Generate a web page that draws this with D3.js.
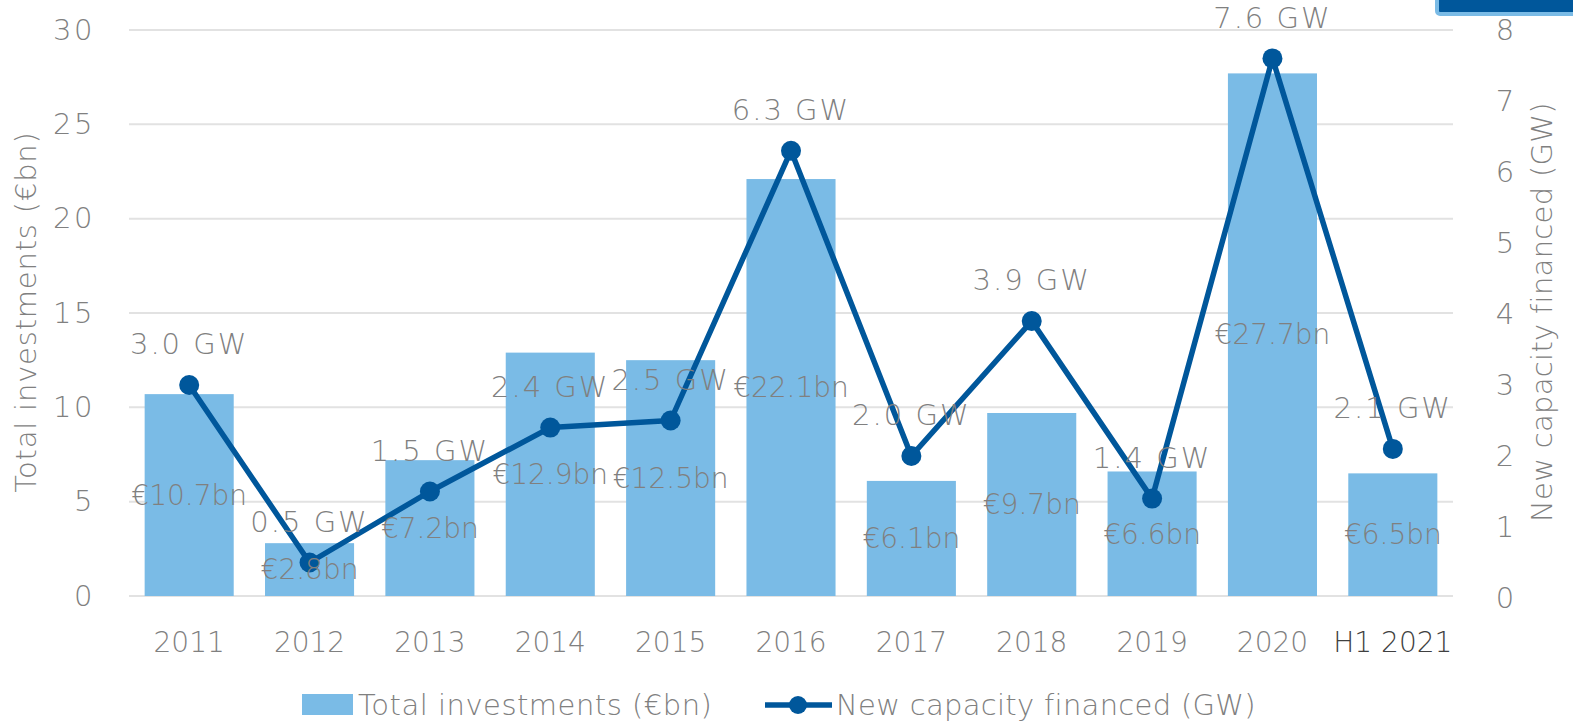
<!DOCTYPE html>
<html><head><meta charset="utf-8">
<script src="https://cdn.jsdelivr.net/npm/d3@7"></script>
<style>
body{margin:0;background:#fff;}
svg text{font-family:"DejaVu Sans", sans-serif;font-weight:200;}
</style></head>
<body><svg id="c" width="1573" height="725"></svg>
<script>
const categories = ["2011","2012","2013","2014","2015","2016","2017","2018","2019","2020","H1 2021"];
const investments = [10.7, 2.8, 7.2, 12.9, 12.5, 22.1, 6.1, 9.7, 6.6, 27.7, 6.5];
const investmentLabels = ["€10.7bn","€2.8bn","€7.2bn","€12.9bn","€12.5bn","€22.1bn","€6.1bn","€9.7bn","€6.6bn","€27.7bn","€6.5bn"];
const capacity = [3.0, 0.5, 1.5, 2.4, 2.5, 6.3, 2.0, 3.9, 1.4, 7.6, 2.1];
const capacityLabels = ["3.0 GW","0.5 GW","1.5 GW","2.4 GW","2.5 GW","6.3 GW","2.0 GW","3.9 GW","1.4 GW","7.6 GW","2.1 GW"];
const leftTicks = [0,5,10,15,20,25,30];
const rightTicks = [0,1,2,3,4,5,6,7,8];

const barColor = "#7abbe6", lineColor = "#00579b", textColor = "#808080";
const svg = d3.select("#c");
const L = 129, R = 1453, T = 30, B = 596;
const x = d3.scaleBand().domain(categories).range([L, R]).paddingInner(0.26).paddingOuter(0.13);
const yL = d3.scaleLinear().domain([0,30]).range([B, T]);
const yR = d3.scaleLinear().domain([0,8]).range([598, 30]);
const fs = "29px";

// top-right cut element
svg.append("rect").attr("x",1437).attr("y",-12).attr("width",150).attr("height",26)
  .attr("fill",lineColor).attr("stroke",barColor).attr("stroke-width",4).attr("rx",3);

// gridlines
svg.append("g").selectAll("line").data(leftTicks).join("line")
  .attr("x1",L).attr("x2",R).attr("y1",d=>yL(d)).attr("y2",d=>yL(d))
  .attr("stroke","#e2e2e2").attr("stroke-width",2);

// left axis
const gl = svg.append("g").attr("transform",`translate(${L},0)`)
  .call(d3.axisLeft(yL).tickValues(leftTicks).tickSize(0).tickPadding(34));
gl.select(".domain").remove();
gl.selectAll("text").attr("fill",textColor).style("font-size",fs).style("letter-spacing","2.5px");

// right axis
const gr = svg.append("g").attr("transform",`translate(${R},0)`)
  .call(d3.axisRight(yR).tickValues(rightTicks).tickSize(0).tickPadding(52));
gr.select(".domain").remove();
gr.selectAll("text").attr("fill",textColor).style("font-size",fs).attr("text-anchor","middle");

// x axis
const gx = svg.append("g").attr("transform",`translate(0,${B})`)
  .call(d3.axisBottom(x).tickSize(0).tickPadding(46));
gx.select(".domain").remove();
gx.selectAll("text").attr("fill",d=>d.startsWith("H1")?"#404040":textColor).style("font-size","28px")
  .style("font-weight",d=>d.startsWith("H1")?"300":"200").attr("dy","0.35em");

// axis titles
svg.append("text").attr("transform",`translate(36,312) rotate(-90)`).attr("text-anchor","middle")
  .attr("fill",textColor).style("font-size",fs).style("letter-spacing","0.8px").text("Total investments (€bn)");
svg.append("text").attr("transform",`translate(1552,312) rotate(-90)`).attr("text-anchor","middle")
  .attr("fill",textColor).style("font-size",fs).style("letter-spacing","0.3px").text("New capacity financed (GW)");

// bars
svg.append("g").selectAll("rect").data(investments).join("rect")
  .attr("x",(d,i)=>x(categories[i])).attr("width",x.bandwidth())
  .attr("y",d=>yL(d)).attr("height",d=>B-yL(d)).attr("fill",barColor);

// line
const line = d3.line().x((d,i)=>x(categories[i])+x.bandwidth()/2).y(d=>yR(d));
svg.append("path").datum(capacity).attr("d",line).attr("fill","none")
  .attr("stroke",lineColor).attr("stroke-width",5.5).attr("stroke-linejoin","round");
svg.append("g").selectAll("circle").data(capacity).join("circle")
  .attr("cx",(d,i)=>x(categories[i])+x.bandwidth()/2).attr("cy",d=>yR(d)).attr("r",10).attr("fill",lineColor);

// bar labels
svg.append("g").selectAll("text").data(investments).join("text")
  .attr("x",(d,i)=>x(categories[i])+x.bandwidth()/2).attr("y",d=>(yL(d)+B)/2).attr("dy","0.35em")
  .attr("text-anchor","middle").attr("fill",textColor).style("font-size","28px")
  .text((d,i)=>investmentLabels[i]);

// line labels
svg.append("g").selectAll("text").data(capacity).join("text")
  .attr("x",(d,i)=>x(categories[i])+x.bandwidth()/2).attr("y",d=>yR(d)-41).attr("dy","0.35em")
  .attr("text-anchor","middle").attr("fill",textColor).style("font-size",fs).style("letter-spacing","2px")
  .text((d,i)=>capacityLabels[i]);

// legend
const lg = svg.append("g");
lg.append("rect").attr("x",302).attr("y",694).attr("width",51).attr("height",21).attr("fill",barColor);
lg.append("text").attr("x",358).attr("y",705).attr("dy","0.35em").attr("fill",textColor).style("font-size",fs).style("letter-spacing","0.5px").text("Total investments (€bn)");
lg.append("line").attr("x1",765).attr("x2",832).attr("y1",705).attr("y2",705).attr("stroke",lineColor).attr("stroke-width",5.5);
lg.append("circle").attr("cx",798).attr("cy",705).attr("r",9).attr("fill",lineColor);
lg.append("text").attr("x",836).attr("y",705).attr("dy","0.35em").attr("fill",textColor).style("font-size",fs).style("letter-spacing","0.3px").text("New capacity financed (GW)");
</script></body></html>
